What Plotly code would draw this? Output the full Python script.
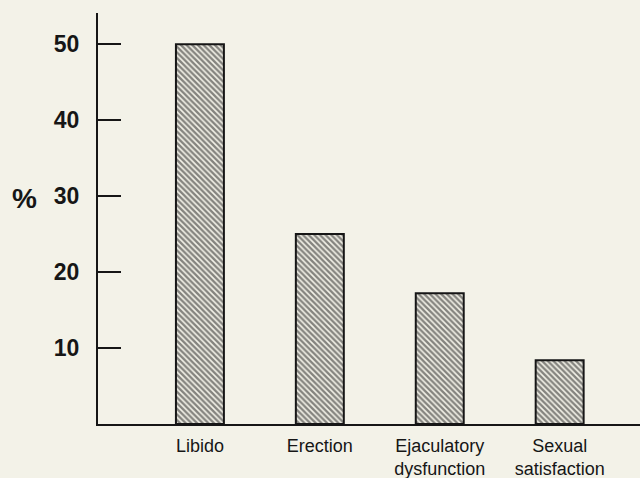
import plotly.graph_objects as go

categories = ["Libido", "Erection", "Ejaculatory<br>dysfunction", "Sexual<br>satisfaction"]
values = [50, 25, 17.2, 8.4]
tick_vals = [10, 20, 30, 40, 50]
tick_text = ["10", "20", "30", "40", "50"]

bg = "#f3f2e8"
ink = "#161616"

fig = go.Figure(go.Bar(
    x=list(range(len(categories))),
    y=values,
    width=0.4,
    marker=dict(
        color=bg,
        line=dict(color=ink, width=2),
        pattern=dict(shape="\\", fgcolor=ink, bgcolor=bg, size=4, solidity=0.6),
    ),
    hoverinfo="skip",
))

fig.update_layout(
    width=640, height=478,
    margin=dict(l=98, r=0, t=13, b=54),
    paper_bgcolor=bg, plot_bgcolor=bg,
    showlegend=False,
    font=dict(family="Liberation Sans, Arial, sans-serif", color=ink),
)

fig.update_xaxes(
    range=[-0.85, 3.67],
    tickvals=list(range(len(categories))),
    ticktext=categories,
    tickfont=dict(size=18, color=ink),
    ticklabelstandoff=4,
    showline=True, linecolor=ink, linewidth=2,
    showgrid=False, zeroline=False, ticks="",
)

fig.update_yaxes(
    range=[0, 54.1],
    tickvals=tick_vals,
    ticktext=tick_text,
    tickfont=dict(size=23, color=ink, weight="bold"),
    ticks="inside", ticklen=23, tickwidth=2, tickcolor=ink,
    ticklabelstandoff=12,
    showline=True, linecolor=ink, linewidth=2,
    showgrid=False, zeroline=False,
)

fig.add_annotation(
    text="%", xref="paper", yref="paper",
    x=(24 - 98) / 542, y=(424 - 198) / 411,
    showarrow=False, xanchor="center", yanchor="middle",
    font=dict(size=28, color=ink, weight="bold"),
)

fig.write_html(
    "out.html",
    config={"displayModeBar": False},
    post_script="document.body.style.margin='0';document.body.style.background='%s';" % bg,
)
